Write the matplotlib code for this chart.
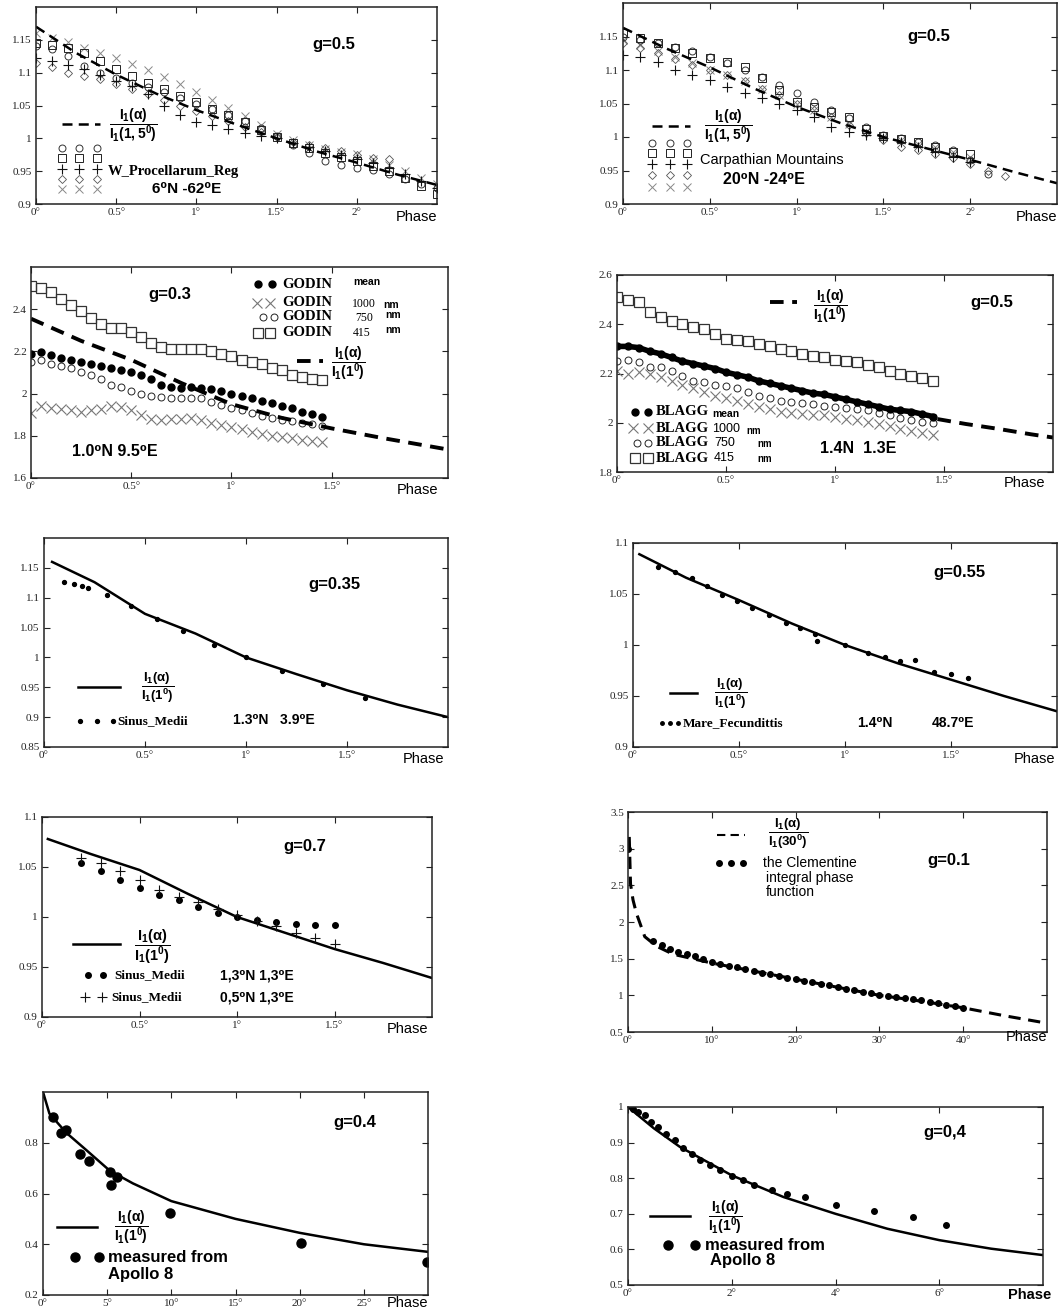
import matplotlib
matplotlib.use('Agg')
import matplotlib.pyplot as plt
from matplotlib.lines import Line2D

# figure size in pixels of the reference
W, H = 1059, 1312
SANS = ['Liberation Sans', 'DejaVu Sans']
SERIF = ['Liberation Serif', 'DejaVu Serif']

plt.rcParams['mathtext.fontset'] = 'custom'
plt.rcParams['mathtext.rm'] = 'Liberation Sans:bold'
plt.rcParams['mathtext.it'] = 'Liberation Sans:bold'
plt.rcParams['mathtext.bf'] = 'Liberation Sans:bold'

# ---------- panel 1: W_Procellarum_Reg ----------
p1_phase = [0.0, 0.1, 0.2, 0.3, 0.4, 0.5, 0.6, 0.7, 0.8, 0.9, 1.0, 1.1, 1.2,
            1.3, 1.4, 1.5, 1.6, 1.7, 1.8, 1.9, 2.0, 2.1, 2.2, 2.3, 2.4, 2.5]
p1_circle = [1.140, 1.136, 1.126, 1.110, 1.099, 1.092, 1.085, 1.078, 1.070, 1.062, 1.053, 1.044, 1.035,
             1.026, 1.015, 1.003, 0.990, 0.978, 0.965, 0.960, 0.955, 0.952, 0.945, 0.938, 0.930, 0.925]
p1_square = [1.145, 1.142, 1.138, 1.130, 1.118, 1.105, 1.095, 1.085, 1.075, 1.065, 1.055, 1.045, 1.035,
             1.025, 1.013, 1.002, 0.993, 0.985, 0.978, 0.972, 0.965, 0.958, 0.950, 0.940, 0.928, 0.915]
p1_plus = [1.122, 1.118, 1.112, 1.105, 1.096, 1.088, 1.080, 1.068, 1.050, 1.035, 1.025, 1.020, 1.014,
           1.008, 1.004, 1.000, 0.993, 0.987, 0.981, 0.975, 0.968, 0.962, 0.955, 0.945, 0.935, 0.925]
p1_diamond = [1.115, 1.108, 1.100, 1.095, 1.090, 1.083, 1.075, 1.067, 1.058, 1.050, 1.042, 1.034, 1.026,
              1.017, 1.009, 1.002, 0.995, 0.990, 0.985, 0.980, 0.975, 0.970, 0.968]
p1_cross = [1.160, 1.153, 1.146, 1.138, 1.130, 1.122, 1.113, 1.104, 1.094, 1.083, 1.070, 1.058, 1.046,
            1.034, 1.020, 1.006, 0.997, 0.990, 0.984, 0.979, 0.976, 0.969, 0.960, 0.950, 0.940, 0.930]
p1_model_x = [0.0, 0.25, 0.5, 0.75, 1.0, 1.25, 1.5, 1.75, 2.0, 2.25, 2.5]
p1_model = [1.170, 1.130, 1.097, 1.068, 1.043, 1.021, 1.000, 0.980, 0.963, 0.945, 0.929]

# ---------- panel 2: Carpathian Mountains ----------
p2_phase = [0.0, 0.1, 0.2, 0.3, 0.4, 0.5, 0.6, 0.7, 0.8, 0.9, 1.0, 1.1,
            1.2, 1.3, 1.4, 1.5, 1.6, 1.7, 1.8, 1.9, 2.0, 2.1, 2.2]
p2_circle = [1.150, 1.145, 1.140, 1.135, 1.128, 1.120, 1.110, 1.100, 1.090, 1.078, 1.065, 1.052,
             1.040, 1.028, 1.015, 1.003, 0.998, 0.993, 0.988, 0.980, 0.965, 0.945]
p2_square = [1.155, 1.148, 1.140, 1.133, 1.125, 1.118, 1.112, 1.105, 1.088, 1.070, 1.052, 1.045,
             1.037, 1.030, 1.012, 1.002, 0.997, 0.993, 0.985, 0.978, 0.975]
p2_plus = [1.123, 1.120, 1.112, 1.100, 1.092, 1.085, 1.075, 1.065, 1.058, 1.050, 1.040, 1.030,
           1.015, 1.008, 1.003, 0.998, 0.992, 0.985, 0.978, 0.970, 0.962]
p2_diamond = [1.140, 1.133, 1.125, 1.117, 1.108, 1.100, 1.092, 1.083, 1.072, 1.062, 1.050, 1.040,
              1.030, 1.018, 1.006, 0.996, 0.985, 0.980, 0.975, 0.968, 0.960, 0.950, 0.942]
p2_cross = [1.145, 1.137, 1.128, 1.120, 1.110, 1.100, 1.092, 1.083, 1.072, 1.062, 1.050, 1.040,
            1.030, 1.020, 1.008, 1.000, 0.995, 0.990, 0.985, 0.978, 0.970]
p2_model_x = [0.0, 0.25, 0.5, 0.75, 1.0, 1.25, 1.5, 1.75, 2.0, 2.25, 2.5]
p2_model = [1.163, 1.132, 1.104, 1.073, 1.045, 1.021, 1.000, 0.983, 0.966, 0.948, 0.931]

# ---------- panel 3: GODIN ----------
p3_phase = [0.0, 0.05, 0.1, 0.15, 0.2, 0.25, 0.3, 0.35, 0.4, 0.45, 0.5, 0.55, 0.6, 0.65, 0.7,
            0.75, 0.8, 0.85, 0.9, 0.95, 1.0, 1.05, 1.1, 1.15, 1.2, 1.25, 1.3, 1.35, 1.4, 1.45]
p3_415 = [2.51, 2.50, 2.48, 2.45, 2.42, 2.39, 2.36, 2.33, 2.31, 2.31, 2.29, 2.27, 2.24, 2.22, 2.21,
          2.21, 2.21, 2.21, 2.20, 2.19, 2.18, 2.16, 2.15, 2.14, 2.12, 2.11, 2.09, 2.08, 2.07, 2.065]
p3_mean = [2.19, 2.195, 2.185, 2.17, 2.16, 2.15, 2.14, 2.13, 2.12, 2.11, 2.10, 2.09, 2.07, 2.04, 2.03,
           2.025, 2.03, 2.025, 2.02, 2.01, 2.00, 1.99, 1.98, 1.965, 1.955, 1.94, 1.93, 1.915, 1.905, 1.89]
p3_750 = [2.15, 2.16, 2.14, 2.13, 2.12, 2.10, 2.09, 2.07, 2.04, 2.03, 2.01, 2.00, 1.99, 1.985, 1.98,
          1.98, 1.98, 1.98, 1.96, 1.945, 1.93, 1.92, 1.91, 1.895, 1.885, 1.875, 1.87, 1.86, 1.855, 1.845]
p3_1000 = [1.91, 1.94, 1.93, 1.925, 1.92, 1.915, 1.92, 1.925, 1.94, 1.935, 1.92, 1.90, 1.88, 1.875, 1.88,
           1.88, 1.885, 1.875, 1.86, 1.85, 1.84, 1.83, 1.82, 1.81, 1.80, 1.795, 1.79, 1.78, 1.775, 1.77]
p3_model_x = [0.0, 0.25, 0.5, 0.75, 1.0, 1.25, 1.5, 1.75, 2.08]
p3_model = [2.355, 2.25, 2.16, 2.05, 1.95, 1.885, 1.835, 1.79, 1.735]

# ---------- panel 4: BLAGG ----------
p4_phase = p3_phase
p4_415 = [2.51, 2.50, 2.49, 2.45, 2.43, 2.415, 2.40, 2.39, 2.38, 2.36, 2.34, 2.335, 2.33, 2.32, 2.31,
          2.30, 2.29, 2.28, 2.27, 2.265, 2.255, 2.25, 2.245, 2.235, 2.225, 2.21, 2.20, 2.19, 2.18, 2.17]
p4_mean = [2.31, 2.31, 2.305, 2.29, 2.28, 2.265, 2.25, 2.24, 2.23, 2.22, 2.205, 2.195, 2.185, 2.17, 2.16,
           2.15, 2.14, 2.13, 2.12, 2.115, 2.105, 2.095, 2.085, 2.075, 2.065, 2.055, 2.05, 2.045, 2.035, 2.025]
p4_750 = [2.25, 2.255, 2.245, 2.225, 2.225, 2.21, 2.19, 2.17, 2.165, 2.155, 2.15, 2.14, 2.125, 2.11, 2.10,
          2.09, 2.085, 2.08, 2.075, 2.07, 2.065, 2.06, 2.055, 2.05, 2.04, 2.03, 2.02, 2.01, 2.005, 2.00]
p4_1000 = [2.21, 2.20, 2.205, 2.20, 2.185, 2.17, 2.155, 2.14, 2.125, 2.11, 2.10, 2.09, 2.075, 2.065, 2.055,
           2.045, 2.04, 2.035, 2.03, 2.03, 2.025, 2.015, 2.01, 2.005, 1.995, 1.985, 1.975, 1.965, 1.96, 1.95]
p4_model_x = [1.47, 1.6, 1.75, 1.9, 2.0]
p4_model = [2.015, 1.995, 1.975, 1.953, 1.94]

# ---------- panel 5: Sinus_Medii g=0.35 ----------
p5_model_x = [0.04, 0.25, 0.5, 0.75, 1.0, 1.25, 1.5, 1.75, 2.0]
p5_model = [1.16, 1.126, 1.073, 1.04, 1.0, 0.972, 0.945, 0.921, 0.9]
p5_obs_x = [0.1, 0.15, 0.19, 0.22, 0.31, 0.43, 0.56, 0.69, 0.84, 1.0, 1.18, 1.38, 1.59]
p5_obs = [1.126, 1.123, 1.12, 1.117, 1.105, 1.086, 1.064, 1.044, 1.02, 1.0, 0.978, 0.956, 0.932]

# ---------- panel 6: Mare_Fecundittis g=0.55 ----------
p6_model_x = [0.03, 0.25, 0.5, 0.75, 1.0, 1.25, 1.5, 1.75, 2.0]
p6_model = [1.089, 1.066, 1.044, 1.021, 1.0, 0.982, 0.966, 0.95, 0.935]
p6_obs_x = [0.12, 0.2, 0.28, 0.35, 0.42, 0.49, 0.56, 0.64, 0.72, 0.79, 0.86, 0.87,
            1.0, 1.11, 1.19, 1.26, 1.33, 1.42, 1.5, 1.58]
p6_obs = [1.076, 1.072, 1.066, 1.058, 1.049, 1.043, 1.036, 1.029, 1.022, 1.017, 1.011, 1.004,
          1.0, 0.992, 0.988, 0.984, 0.985, 0.974, 0.972, 0.968]

# ---------- panel 7: Sinus_Medii g=0.7 ----------
p7_model_x = [0.03, 0.25, 0.5, 0.75, 1.0, 1.25, 1.5, 1.75, 2.0]
p7_model = [1.078, 1.063, 1.047, 1.023, 1.0, 0.984, 0.968, 0.954, 0.939]
p7_obs_x = [0.2, 0.3, 0.4, 0.5, 0.6, 0.7, 0.8, 0.9, 1.0, 1.1, 1.2, 1.3, 1.4, 1.5]
p7_obs_13n = [1.054, 1.046, 1.037, 1.029, 1.022, 1.017, 1.010, 1.004, 1.000, 0.997, 0.995, 0.993, 0.992, 0.992]
p7_obs_05n = [1.059, 1.054, 1.046, 1.037, 1.027, 1.020, 1.015, 1.008, 1.002, 0.996, 0.991, 0.984, 0.979, 0.973]

# ---------- panel 8: Clementine integral phase function ----------
p8_model_x = [0.15, 0.3, 0.6, 1.0, 2.0, 3.4, 5.4, 10, 15, 20, 25, 30, 35, 40, 45, 50]
p8_model = [3.16, 2.52, 2.30, 2.12, 1.80, 1.67, 1.56, 1.44, 1.33, 1.22, 1.11, 1.0, 0.92, 0.83, 0.72, 0.62]
p8_obs_x = [0, 3, 4, 5, 6, 7, 8, 9, 10, 11, 12, 13, 14, 15, 16, 17, 18, 19, 20, 21,
            22, 23, 24, 25, 26, 27, 28, 29, 30, 31, 32, 33, 34, 35, 36, 37, 38, 39, 40]
p8_obs = [3.0, 1.74, 1.68, 1.63, 1.59, 1.56, 1.53, 1.50, 1.46, 1.43, 1.40, 1.38, 1.36, 1.33, 1.31,
          1.29, 1.26, 1.24, 1.22, 1.20, 1.18, 1.16, 1.14, 1.11, 1.09, 1.07, 1.05, 1.03, 1.01, 0.99,
          0.98, 0.96, 0.945, 0.93, 0.91, 0.895, 0.875, 0.855, 0.83]

# ---------- panel 9: Apollo 8, wide range ----------
p9_model_x = [0, 0.5, 1.8, 3.4, 5.2, 7, 10, 15, 20, 25, 30]
p9_model = [1.0, 0.915, 0.84, 0.77, 0.69, 0.64, 0.57, 0.50, 0.445, 0.40, 0.37]
p9_obs_x = [0.8, 1.4, 1.8, 2.9, 3.6, 5.2, 5.3, 5.8, 9.9, 20.1, 29.9]
p9_obs = [0.90, 0.84, 0.85, 0.755, 0.73, 0.685, 0.635, 0.665, 0.525, 0.405, 0.33]

# ---------- panel 10: Apollo 8, small range ----------
p10_model_x = [0, 0.5, 1, 2, 3, 4, 5, 6, 7, 8]
p10_model = [1.0, 0.94, 0.888, 0.808, 0.747, 0.70, 0.658, 0.626, 0.602, 0.584]
p10_obs_x = [0.1, 0.19, 0.32, 0.45, 0.58, 0.74, 0.9, 1.06, 1.23, 1.39, 1.58, 1.77, 2.0, 2.21,
             2.42, 2.77, 3.06, 3.42, 4.01, 4.74, 5.5, 6.13]
p10_obs = [0.995, 0.986, 0.977, 0.958, 0.944, 0.925, 0.907, 0.886, 0.869, 0.852, 0.837, 0.822,
           0.807, 0.796, 0.781, 0.767, 0.756, 0.747, 0.726, 0.707, 0.69, 0.669]

fig = plt.figure(figsize=(W / 100, H / 100), dpi=100)


def panel(l, t, r, b):
    return fig.add_axes([l / W, 1 - b / H, (r - l) / W, (b - t) / H])


def style(ax, xlim, ylim, xt, xl, yt, yl, phase_dx=0, phase_dy=6, bold_phase=False):
    ax.set_xlim(*xlim)
    ax.set_ylim(*ylim)
    ax.set_xticks(xt)
    ax.set_xticklabels(xl, family=SERIF, fontsize=8)
    ax.set_yticks(yt)
    ax.set_yticklabels(yl, family=SERIF, fontsize=8)
    ax.tick_params(direction='in', top=True, right=True, length=4, width=0.8, pad=3, colors='#222')
    for sp in ax.spines.values():
        sp.set_linewidth(1.1)
        sp.set_color('#222')
    ax.annotate('Phase', xy=(1, 0), xycoords='axes fraction',
                xytext=(phase_dx, -phase_dy), textcoords='offset pixels',
                ha='right', va='top', fontsize=10.5, family=SANS,
                fontweight='bold' if bold_phase else 'normal')


def txt(x, y, s, size=11, weight='bold', family=SANS, ha='left', va='center', **kw):
    fig.text(x / W, 1 - y / H, s, fontsize=size, fontweight=weight, family=family,
             ha=ha, va=va, **kw)


def key(xs, y, **kw):
    # legend sample drawn in figure pixels
    fig.add_artist(Line2D([x / W for x in xs], [1 - y / H] * len(xs),
                          transform=fig.transFigure, **kw))


def frac(x, y, den, size=10):
    txt(x, y, r'$\dfrac{I_1(\alpha)}{I_1(%s)}$' % den, size=size, ha='center')


CIRC = dict(marker='o', ls='none', mfc='none', mec='#333', ms=5, mew=0.7)
SQR = dict(marker='s', ls='none', mfc='none', mec='#222', ms=5.5, mew=0.7)
PLUS = dict(marker='+', ls='none', color='#111', ms=6.5, mew=0.8)
DIAM = dict(marker='D', ls='none', mfc='none', mec='#555', ms=4, mew=0.6)
CROSS = dict(marker='x', ls='none', color='#888', ms=5.5, mew=0.7)
DASH1 = dict(color='black', lw=1.8, dashes=(4, 2.5))

deg_a = ['0°', '0.5°', '1°', '1.5°', '2°']

# panel 1
ax = panel(36, 7, 437, 204)
ax.plot(p1_phase, p1_cross, **CROSS)
ax.plot(p1_phase[:len(p1_diamond)], p1_diamond, **DIAM)
ax.plot(p1_phase, p1_circle, **CIRC)
ax.plot(p1_phase, p1_square, **SQR)
ax.plot(p1_phase, p1_plus, **PLUS)
ax.plot(p1_model_x, p1_model, **DASH1)
style(ax, (0, 2.5), (0.9, 1.2), [0, 0.5, 1, 1.5, 2], deg_a,
      [0.9, 0.95, 1, 1.05, 1.1, 1.15], ['0.9', '0.95', '1', '1.05', '1.1', '1.15'], phase_dy=6)
txt(312, 45, 'g=0.5', 12)
key([62, 100], 124, **DASH1)
frac(133, 125, '1,5^0')
for yy, st in zip([148, 158, 169, 179, 189], [CIRC, SQR, PLUS, DIAM, CROSS]):
    key([62, 79, 97], yy, **st)
txt(108, 172, 'W_Procellarum_Reg', 10.5, family=SERIF)
txt(152, 189, '6⁰N -62⁰E', 11)

# panel 2
ax = panel(623, 3, 1057, 204)
ax.plot(p2_phase[:len(p2_cross)], p2_cross, **CROSS)
ax.plot(p2_phase[:len(p2_diamond)], p2_diamond, **DIAM)
ax.plot(p2_phase[:len(p2_circle)], p2_circle, **CIRC)
ax.plot(p2_phase[:len(p2_square)], p2_square, **SQR)
ax.plot(p2_phase[:len(p2_plus)], p2_plus, **PLUS)
ax.plot(p2_model_x, p2_model, **DASH1)
style(ax, (0, 2.5), (0.9, 1.2), [0, 0.5, 1, 1.5, 2], deg_a,
      [0.9, 0.95, 1, 1.05, 1.1, 1.15], ['0.9', '0.95', '1', '1.05', '1.1', '1.15'], phase_dy=6)
txt(907, 37, 'g=0.5', 12)
key([652, 690], 126, **DASH1)
frac(728, 126, '1,5^0')
for yy, st in zip([143, 153, 164, 175, 187], [CIRC, SQR, PLUS, DIAM, CROSS]):
    key([652, 670, 687], yy, **st)
txt(700, 160, 'Carpathian Mountains', 10.5, weight='normal')
txt(723, 180, '20⁰N -24⁰E', 11.5)

# panel 3
BIG_SQ = dict(marker='s', ls='none', mfc='none', mec='#333', ms=7, mew=0.9)
OPEN_C = dict(marker='o', ls='none', mfc='none', mec='#222', ms=5, mew=0.7)
FILL_C = dict(marker='o', ls='none', color='black', ms=5)
GREY_X = dict(marker='x', ls='none', color='#777', ms=6.5, mew=0.8)
DASH2 = dict(color='black', lw=2.8, dashes=(3.5, 2.2))

ax = panel(31, 267, 448, 478)
ax.plot(p3_phase, p3_415, **BIG_SQ)
ax.plot(p3_phase, p3_1000, **GREY_X)
ax.plot(p3_phase, p3_750, **OPEN_C)
ax.plot(p3_phase, p3_mean, **FILL_C)
ax.plot(p3_model_x, p3_model, **DASH2)
style(ax, (0, 2.08), (1.6, 2.6), [0, 0.5, 1, 1.5], ['0°', '0.5°', '1°', '1.5°'],
      [1.6, 1.8, 2, 2.2, 2.4], ['1.6', '1.8', '2', '2.2', '2.4'], phase_dx=-10, phase_dy=5)
txt(148, 295, 'g=0.3', 12)
key([258, 272], 284, **FILL_C)
key([257, 270], 303, **GREY_X)
key([263, 274], 317, **OPEN_C)
key([258, 270], 333, **BIG_SQ)
for yy in [285, 303, 317, 333]:
    txt(282, yy, 'GODIN', 10.5, family=SERIF)
txt(353, 282, 'mean', 7.5)
txt(352, 304, '1000', 8.5, weight='normal', family=SERIF)
txt(383, 305, 'nm', 7.5)
txt(355, 318, '750', 8.5, weight='normal', family=SERIF)
txt(385, 315, 'nm', 7.5)
txt(353, 333, '415', 8.5, weight='normal', family=SERIF)
txt(385, 330, 'nm', 7.5)
key([297, 323], 361, **DASH2)
frac(348, 363, '1^0')
txt(72, 452, '1.0⁰N 9.5⁰E', 11.5)

# panel 4
ax = panel(617, 275, 1053, 472)
ax.plot(p4_phase, p4_415, **BIG_SQ)
ax.plot(p4_phase, p4_1000, **GREY_X)
ax.plot(p4_phase, p4_750, **OPEN_C)
ax.plot(p4_phase, p4_mean, color='black', lw=4, marker='o', ms=5)
ax.plot(p4_model_x, p4_model, **DASH2)
style(ax, (0, 2.0), (1.8, 2.6), [0, 0.5, 1, 1.5], ['0°', '0.5°', '1°', '1.5°'],
      [1.8, 2, 2.2, 2.4, 2.6], ['1.8', '2', '2.2', '2.4', '2.6'], phase_dx=-8, phase_dy=4)
txt(970, 303, 'g=0.5', 12)
key([770, 797], 302, **DASH2)
frac(830, 306, '1^0')
key([635, 648], 412, **FILL_C)
key([633, 648], 428, **GREY_X)
key([637, 648], 443, **OPEN_C)
key([635, 648], 458, **BIG_SQ)
for yy in [412, 428, 443, 458]:
    txt(656, yy, 'BLAGG', 10.5, family=SERIF)
txt(712, 414, 'mean', 7.5)
txt(712, 429, '1000', 9, weight='normal', family=SANS)
txt(746, 431, 'nm', 7)
txt(714, 443, '750', 9, weight='normal', family=SANS)
txt(757, 444, 'nm', 7)
txt(714, 458, '415', 9, weight='normal', family=SANS)
txt(757, 459, 'nm', 7)
txt(820, 448, '1.4N  1.3E', 11.5)

# panel 5
SOLID = dict(color='black', lw=1.8)
DOT = dict(marker='o', ls='none', color='black', ms=2.8)
ax = panel(44, 538, 448, 747)
ax.plot(p5_model_x, p5_model, **SOLID)
ax.plot(p5_obs_x, p5_obs, **DOT)
style(ax, (0, 2.0), (0.85, 1.2), [0, 0.5, 1, 1.5], ['0°', '0.5°', '1°', '1.5°'],
      [0.85, 0.9, 0.95, 1, 1.05, 1.1, 1.15],
      ['0.85', '0.9', '0.95', '1', '1.05', '1.1', '1.15'], phase_dx=-4, phase_dy=5)
txt(308, 585, 'g=0.35', 12)
key([78, 120], 687, **SOLID)
frac(158, 688, '1^0', 9.5)
key([80, 97, 113], 721, **DOT)
txt(117, 721, 'Sinus_Medii', 9.5, family=SERIF)
txt(233, 720, '1.3⁰N   3.9⁰E', 10)

# panel 6
ax = panel(633, 543, 1057, 747)
ax.plot(p6_model_x, p6_model, **SOLID)
ax.plot(p6_obs_x, p6_obs, **DOT)
style(ax, (0, 2.0), (0.9, 1.1), [0, 0.5, 1, 1.5], ['0°', '0.5°', '1°', '1.5°'],
      [0.9, 0.95, 1, 1.05, 1.1], ['0.9', '0.95', '1', '1.05', '1.1'], phase_dx=-2, phase_dy=5)
txt(933, 572, 'g=0.55', 12)
key([670, 697], 693, **SOLID)
frac(731, 694, '1^0', 9.5)
key([662, 670, 678], 723, **dict(DOT, ms=2.5))
txt(683, 723, 'Mare_Fecundittis', 9.5, family=SERIF)
txt(857, 723, '1.4⁰N', 10)
txt(932, 723, '48.7⁰E', 10)

# panel 7
ax = panel(42, 817, 432, 1017)
ax.plot(p7_model_x, p7_model, **SOLID)
ax.plot(p7_obs_x, p7_obs_13n, **dict(DOT, ms=4))
ax.plot(p7_obs_x, p7_obs_05n, **dict(PLUS, ms=7))
style(ax, (0, 2.0), (0.9, 1.1), [0, 0.5, 1, 1.5], ['0°', '0.5°', '1°', '1.5°'],
      [0.9, 0.95, 1, 1.05, 1.1], ['0.9', '0.95', '1', '1.05', '1.1'], phase_dx=-4, phase_dy=5)
txt(283, 846, 'g=0.7', 12)
key([73, 120], 944, **SOLID)
frac(152, 947, '1^0', 10.5)
key([88, 103], 975, **dict(DOT, ms=4))
txt(114, 975, 'Sinus_Medii', 9.5, family=SERIF)
txt(220, 975, '1,3⁰N 1,3⁰E', 10)
key([85, 102], 997, **dict(PLUS, ms=7))
txt(111, 997, 'Sinus_Medii', 9.5, family=SERIF)
txt(220, 997, '0,5⁰N 1,3⁰E', 10)

# panel 8
ax = panel(628, 812, 1047, 1032)
ax.plot(p8_model_x, p8_model, color='black', lw=2.2, dashes=(4, 2.5))
ax.plot(p8_obs_x, p8_obs, **dict(DOT, ms=4))
style(ax, (0, 50), (0.5, 3.5), [0, 10, 20, 30, 40], ['0°', '10°', '20°', '30°', '40°'],
      [0.5, 1, 1.5, 2, 2.5, 3, 3.5], ['0.5', '1', '1.5', '2', '2.5', '3', '3.5'],
      phase_dx=0, phase_dy=-2)
txt(927, 860, 'g=0.1', 12)
key([717, 745], 835, color='black', lw=1.5, dashes=(4, 2.5))
frac(788, 834, '30^0', 9.5)
key([719, 731, 743], 863, **dict(DOT, ms=4))
txt(763, 863, 'the Clementine', 10, weight='normal')
txt(766, 878, 'integral phase', 10, weight='normal')
txt(766, 892, 'function', 10, weight='normal')

# panel 9
ax = panel(43, 1092, 428, 1295)
ax.plot(p9_model_x, p9_model, **SOLID)
ax.plot(p9_obs_x, p9_obs, **dict(DOT, ms=6.5))
style(ax, (0, 30), (0.2, 1.0), [0, 5, 10, 15, 20, 25], ['0°', '5°', '10°', '15°', '20°', '25°'],
      [0.2, 0.4, 0.6, 0.8], ['0.2', '0.4', '0.6', '0.8'], phase_dx=0, phase_dy=1)
txt(333, 1123, 'g=0.4', 12)
key([57, 97], 1227, **SOLID)
frac(131, 1227, '1^0', 10)
key([75, 99], 1257, **dict(DOT, ms=6.5))
txt(108, 1257, 'measured from', 12)
txt(108, 1274, 'Apollo 8', 12)

# panel 10
ax = panel(628, 1107, 1043, 1285)
ax.plot(p10_model_x, p10_model, **SOLID)
ax.plot(p10_obs_x, p10_obs, **dict(DOT, ms=4))
style(ax, (0, 8), (0.5, 1.0), [0, 2, 4, 6], ['0°', '2°', '4°', '6°'],
      [0.5, 0.6, 0.7, 0.8, 0.9, 1.0], ['0.5', '0.6', '0.7', '0.8', '0.9', '1'],
      phase_dx=8, phase_dy=3, bold_phase=True)
txt(923, 1133, 'g=0,4', 12)
key([650, 690], 1216, **SOLID)
frac(725, 1217, '1^0', 10)
key([668, 695], 1245, **dict(DOT, ms=6.5))
txt(705, 1245, 'measured from', 12)
txt(710, 1261, 'Apollo 8', 12)

fig.savefig('out.png', dpi=100)
plt.close(fig)
